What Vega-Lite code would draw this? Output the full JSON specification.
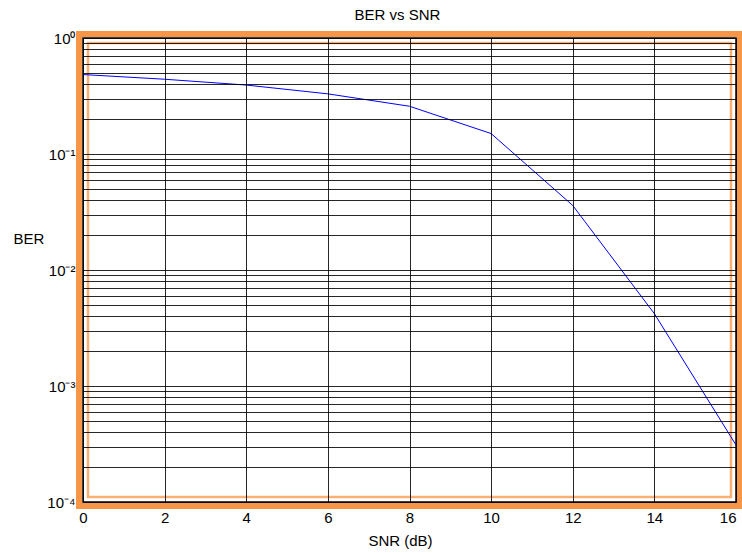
{
  "$schema": "https://vega.github.io/schema/vega-lite/v6.json",
  "width": 653,
  "height": 464,
  "autosize": {"type": "none"},
  "padding": {"left": 83, "top": 38, "right": 6, "bottom": 51},
  "background": "white",
  "config": {"view": {"stroke": "#000", "strokeWidth": 1.5}, "font": "Liberation Sans"},
  "title": {"text": "BER vs SNR", "fontSize": 15, "fontWeight": "normal", "color": "#000", "dx": -12, "dy": 4, "baseline": "alphabetic", "offset": 0},
  "layer": [
    {
      "data": {"values": [{}]},
      "mark": {"type": "rect", "fill": null, "stroke": "#f79646", "strokeWidth": 6, "xOffset": -4, "x2Offset": 4, "yOffset": -4, "y2Offset": 4},
      "encoding": {
        "x": {"datum": 0, "type": "quantitative"},
        "x2": {"datum": 16},
        "y": {"datum": 1, "type": "quantitative"},
        "y2": {"datum": 0.0001}
      }
    },
    {
      "data": {"values": [{}]},
      "mark": {"type": "rect", "fill": null, "stroke": "#f79646", "strokeOpacity": 0.75, "strokeWidth": 2.5, "xOffset": 5, "x2Offset": -5, "yOffset": 5, "y2Offset": -5},
      "encoding": {
        "x": {"datum": 0, "type": "quantitative"},
        "x2": {"datum": 16},
        "y": {"datum": 1, "type": "quantitative"},
        "y2": {"datum": 0.0001}
      }
    },
    {
      "data": {"values": [
        {"snr": 0, "ber": 0.484},
        {"snr": 2, "ber": 0.441},
        {"snr": 4, "ber": 0.393},
        {"snr": 6, "ber": 0.330},
        {"snr": 8, "ber": 0.258},
        {"snr": 10, "ber": 0.150},
        {"snr": 12, "ber": 0.036},
        {"snr": 14, "ber": 0.0042},
        {"snr": 16, "ber": 0.00031}
      ]},
      "mark": {"type": "line", "color": "#0000ff", "strokeWidth": 1},
      "encoding": {
        "x": {
          "field": "snr", "type": "quantitative",
          "scale": {"domain": [0, 16], "nice": false, "zero": false},
          "axis": {
            "values": [0, 2, 4, 6, 8, 10, 12, 14, 16],
            "grid": true, "gridColor": "#000", "gridOpacity": 0.85, "gridWidth": 1,
            "ticks": false, "domain": false,
            "labelFontSize": 15, "labelColor": "#000", "labelPadding": 8, "labelFlush": false,
            "labelAlign": {"expr": "datum.value == 16 ? 'right' : 'center'"},
            "labelDx": {"expr": "datum.value == 16 ? 6 : 0"},
            "title": "SNR (dB)", "titleFontSize": 15, "titleFontWeight": "normal", "titleColor": "#000",
            "titleX": 317, "titleY": 43, "titleBaseline": "alphabetic", "titleAlign": "center",
            "zindex": 1
          }
        },
        "y": {
          "field": "ber", "type": "quantitative",
          "scale": {"type": "log", "domain": [0.0001, 1], "nice": false},
          "axis": {
            "values": [0.0001, 0.0002, 0.0003, 0.0004, 0.0005, 0.0006, 0.0007, 0.0008, 0.0009,
                       0.001, 0.002, 0.003, 0.004, 0.005, 0.006, 0.007, 0.008, 0.009,
                       0.01, 0.02, 0.03, 0.04, 0.05, 0.06, 0.07, 0.08, 0.09,
                       0.1, 0.2, 0.3, 0.4, 0.5, 0.6, 0.7, 0.8, 0.9, 1],
            "labelExpr": "abs(log(datum.value)/LN10 - round(log(datum.value)/LN10)) < 0.001 ? '10' + ['⁰','⁻¹','⁻²','⁻³','⁻⁴'][-round(log(datum.value)/LN10)] : ''",
            "grid": true, "gridColor": "#000", "gridOpacity": 0.85, "gridWidth": 1,
            "ticks": false, "domain": false,
            "labelFontSize": 15, "labelColor": "#000", "labelPadding": 8, "labelOverlap": false, "labelFlush": false,
            "title": "BER", "titleAngle": 0, "titleFontSize": 15, "titleFontWeight": "normal", "titleColor": "#000",
            "titleX": -70, "titleY": 200, "titleAlign": "left", "titleBaseline": "middle",
            "zindex": 1
          }
        }
      }
    }
  ]
}
